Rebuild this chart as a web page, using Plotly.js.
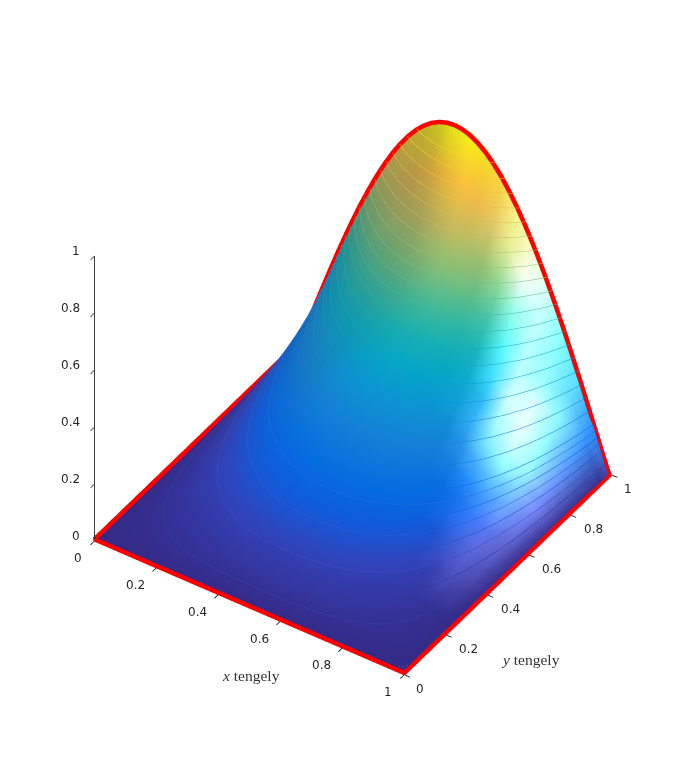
<!DOCTYPE html>
<html><head><meta charset="utf-8">
<script src="https://cdn.plot.ly/plotly-3.0.1.min.js"></script>
<style>html,body{margin:0;padding:0;background:#fff}#c{width:682px;height:758px}</style>
</head><body><div id="c"></div>
<script>
const xGrid=[0,.05,.1,.15,.2,.25,.3,.35,.4,.45,.5,.55,.6,.65,.7,.75,.8,.85,.9,.95,1];
const yGrid=[0,.05,.1,.15,.2,.25,.3,.35,.4,.45,.5,.55,.6,.65,.7,.75,.8,.85,.9,.95,1];
const zGrid=[
[0,0,0,0,0,0,0,0,0,0,0,0,0,0,0,0,0,0,0,0,0],
[0,.002,.004,.006,.008,.010,.011,.012,.013,.013,.014,.013,.013,.012,.011,.010,.008,.006,.004,.002,0],
[0,.004,.009,.013,.016,.020,.022,.025,.026,.027,.028,.027,.026,.025,.022,.020,.016,.013,.009,.004,0],
[0,.007,.013,.019,.025,.030,.034,.038,.040,.042,.042,.042,.040,.038,.034,.030,.025,.019,.013,.007,0],
[0,.009,.018,.026,.034,.041,.047,.052,.055,.057,.058,.057,.055,.052,.047,.041,.034,.026,.018,.009,0],
[0,.012,.023,.034,.044,.053,.061,.067,.072,.074,.075,.074,.072,.067,.061,.053,.044,.034,.023,.012,0],
[0,.015,.029,.043,.055,.067,.076,.084,.090,.093,.094,.093,.090,.084,.076,.067,.055,.043,.029,.015,0],
[0,.018,.036,.052,.068,.082,.094,.103,.110,.114,.116,.114,.110,.103,.094,.082,.068,.052,.036,.018,0],
[0,.022,.043,.063,.082,.099,.113,.125,.133,.138,.140,.138,.133,.125,.113,.099,.082,.063,.043,.022,0],
[0,.026,.052,.076,.098,.118,.135,.149,.159,.165,.167,.165,.159,.149,.135,.118,.098,.076,.052,.026,0],
[0,.031,.062,.090,.117,.141,.161,.178,.190,.197,.199,.197,.190,.178,.161,.141,.117,.090,.062,.031,0],
[0,.037,.073,.107,.139,.167,.191,.210,.224,.233,.236,.233,.224,.210,.191,.167,.139,.107,.073,.037,0],
[0,.044,.086,.126,.164,.197,.225,.248,.265,.275,.279,.275,.265,.248,.225,.197,.164,.126,.086,.044,0],
[0,.051,.101,.149,.193,.232,.265,.292,.312,.324,.328,.324,.312,.292,.265,.232,.193,.149,.101,.051,0],
[0,.060,.119,.175,.227,.273,.312,.344,.367,.381,.386,.381,.367,.344,.312,.273,.227,.175,.119,.060,0],
[0,.071,.140,.206,.266,.320,.366,.403,.431,.447,.453,.447,.431,.403,.366,.320,.266,.206,.140,.071,0],
[0,.083,.164,.241,.312,.375,.430,.473,.505,.524,.531,.524,.505,.473,.430,.375,.312,.241,.164,.083,0],
[0,.097,.192,.283,.366,.440,.504,.555,.592,.615,.622,.615,.592,.555,.504,.440,.366,.283,.192,.097,0],
[0,.114,.225,.331,.429,.516,.590,.650,.694,.720,.729,.720,.694,.650,.590,.516,.429,.331,.225,.114,0],
[0,.134,.264,.388,.502,.604,.691,.761,.812,.844,.854,.844,.812,.761,.691,.604,.502,.388,.264,.134,0],
[0,.156,.309,.454,.588,.707,.809,.891,.951,.988,1,.988,.951,.891,.809,.707,.588,.454,.309,.156,0]
];
// shading: negative = dim slope, positive = white highlight
const shade=[
[0,0,0,0,0,0,0,0,0,0,0,0,0,0,0,0,0,0,0,0,0],
[0,0,0,0,0,0,0,0,0,0,0,0,0,0,0,0,0,0,0,0,0],
[0,0,0,0,0,0,0,0,0,0,0,0,0,0,0,0,0,0,0,0,0],
[0,0,0,0,0,0,0,0,0,0,0,0,0,0,0,0,0,0,0,0,0],
[0,0,0,0,0,0,0,0,0,0,0,0,0,0,0,0,0,0,0,0,0],
[0,0,0,0,0,0,0,0,0,0,0,0,0,0,0,0,0,0,0,0,0],
[0,0,0,0,0,0,0,0,0,0,0,0,0,0,0,0,0,0,.03,.03,0],
[0,0,0,0,0,0,0,0,0,0,0,0,0,0,0,0,0,0,.08,.06,0],
[0,0,0,0,0,0,0,0,0,0,0,0,0,0,0,0,0,.05,.12,.1,0],
[0,-.05,-.05,-.05,-.05,-.03,0,0,0,0,0,0,0,0,0,0,0,.08,.15,.12,0],
[0,-.08,-.08,-.08,-.08,-.05,-.03,0,0,0,0,0,0,0,0,0,.05,.12,.18,.15,0],
[0,-.1,-.1,-.1,-.1,-.08,-.05,0,0,0,0,0,0,0,0,0,.05,.15,.2,.18,0],
[0,-.12,-.12,-.12,-.12,-.12,-.08,-.04,0,0,0,0,0,0,0,.03,.12,.22,.3,.22,0],
[0,-.18,-.18,-.18,-.18,-.18,-.14,-.08,-.03,0,0,0,0,0,0,.08,.25,.38,.38,.25,0],
[0,-.25,-.25,-.25,-.25,-.25,-.25,-.2,-.1,-.05,0,0,0,0,.03,.15,.45,.6,.5,.3,0],
[0,-.3,-.3,-.3,-.3,-.3,-.3,-.25,-.2,-.12,-.05,0,0,0,.03,.15,.65,.8,.6,.3,0],
[0,-.35,-.35,-.35,-.35,-.35,-.35,-.35,-.3,-.25,-.1,0,0,0,.03,.25,.8,.9,.6,.3,0],
[0,-.42,-.42,-.42,-.42,-.42,-.42,-.42,-.42,-.35,-.15,0,0,0,.05,.3,.75,.85,.55,.28,0],
[0,-.5,-.5,-.5,-.5,-.5,-.5,-.5,-.5,-.45,-.2,0,0,0,.1,.35,.7,.6,.5,.25,0],
[-.6,-.6,-.6,-.6,-.6,-.6,-.6,-.6,-.6,-.5,-.2,0,0,.05,.2,.5,.6,.55,.35,.2,0],
[-.6,-.6,-.6,-.6,-.6,-.6,-.6,-.6,-.6,-.5,-.2,0,0,.05,.25,.4,.45,.45,.3,.15,.1]
];
const edgeX=[0,.025,.05,.075,.1,.125,.15,.175,.2,.225,.25,.275,.3,.325,.35,.375,.4,.425,.45,.475,.5,.525,.55,.575,.6,.625,.65,.675,.7,.725,.75,.775,.8,.825,.85,.875,.9,.925,.95,.975,1,1,0,0];
const edgeY=[.99,.99,.99,.99,.99,.99,.99,.99,.99,.99,.99,.99,.99,.99,.99,.99,.99,.99,.99,.99,.99,.99,.99,.99,.99,.99,.99,.99,.99,.99,.99,.99,.99,.99,.99,.99,.99,.99,.99,.99,.99,0,0,.99];
const edgeZ=[.006,.0785,.1564,.2334,.309,.3827,.454,.5225,.5878,.6494,.7071,.7604,.809,.8526,.891,.9239,.9511,.9724,.9877,.9969,1,.9969,.9877,.9724,.9511,.9239,.891,.8526,.809,.7604,.7071,.6494,.5878,.5225,.454,.3827,.309,.2334,.1564,.0785,.006,.006,.006,.006];
const tickVals=[0,.2,.4,.6,.8,1];
const tickText=['0','0.2','0.4','0.6','0.8','1'];
const parulaPos=[0,.0635,.111,.159,.206,.254,.302,.349,.397,.444,.492,.54,.587,.635,.683,.73,.778,.825,.873,.92,.968,1];
const parulaRGB=[[53,42,135],[50,67,186],[15,92,221],[4,109,224],[16,121,218],[20,133,212],[12,147,210],[6,160,205],[7,169,194],[21,176,180],[46,183,164],[77,188,146],[113,191,128],[145,191,115],[174,189,103],[200,187,93],[225,185,82],[248,186,68],[254,200,50],[247,216,38],[245,235,24],[249,251,14]];
const parulaAt=(t)=>{let i=0;while(i<parulaPos.length-2&&t>parulaPos[i+1])i++;const f=(t-parulaPos[i])/(parulaPos[i+1]-parulaPos[i]);return parulaRGB[i].map((c,n)=>c+(parulaRGB[i+1][n]-c)*f);};
const parulaScale=parulaPos.map((p,i)=>[p,'rgb('+parulaRGB[i].join(',')+')']);
const paleScale=parulaPos.map((p,i)=>[p,'rgb('+parulaRGB[i].map(c=>Math.round(c+(255-c)*.07)).join(',')+')']);
const vx=[],vy=[],vz=[],vc=[],ti=[],tj=[],tk=[];
const nx=xGrid.length,ny=yGrid.length;
yGrid.forEach((y,r)=>xGrid.forEach((x,c)=>{
 vx.push(x);vy.push(y);vz.push(zGrid[r][c]);
 const s=shade[r][c],b=parulaAt(zGrid[r][c]);
 const m=s>=0?b.map(v=>Math.min(255,v+255*s*.95)):b.map(v=>v+(64-v)*(-s)*.5);
 vc.push('rgb('+m.map(Math.round).join(',')+')');
 if(r<ny-1&&c<nx-1){const a=r*nx+c;ti.push(a,a);tj.push(a+1,a+nx+1);tk.push(a+nx+1,a+nx);}
}));
const axis=()=>({title:{text:''},range:[0,1],tickvals:tickVals,showticklabels:false,showgrid:false,zeroline:false,showbackground:false,showspikes:false,showline:true,linecolor:'#262626',linewidth:2,ticks:'outside',ticklen:7,tickwidth:2,tickcolor:'#262626'});
const tf={family:'DejaVu Sans',size:12,color:'#262626'};
const lab=(x,y,z,t,xs,ys)=>({x,y,z,text:t,showarrow:false,xshift:xs,yshift:ys,font:tf});
const sceneAnn=[];
tickVals.forEach((v,i)=>{
 const w=tickText[i].length>1;
 sceneAnn.push(lab(v,0,0,tickText[i],w?-21:-16,-17));
 sceneAnn.push(lab(1,v,0,tickText[i],w?23:16,-14));
 sceneAnn.push(lab(0,0,v,tickText[i],w?-24:-18,5));
});
const lift=(d)=>zGrid.map(r=>r.map(v=>v+d));
Plotly.newPlot('c',[
{type:'mesh3d',x:vx,y:vy,z:vz,i:ti,j:tj,k:tk,vertexcolor:vc,showscale:false,hoverinfo:'skip',
 lighting:{ambient:1,diffuse:0,specular:0,roughness:1,fresnel:0}},
{type:'surface',x:xGrid,y:yGrid,z:lift(.004),cmin:0,cmax:1,colorscale:parulaScale,showscale:false,hidesurface:true,hoverinfo:'skip',
 contours:{z:{show:true,start:.04,end:.96,size:.04,usecolormap:true,width:1}}},
{type:'surface',x:xGrid,y:yGrid,z:lift(.004),cmin:0,cmax:1,colorscale:paleScale,showscale:false,hidesurface:true,hoverinfo:'skip',
 contours:{z:{show:true,start:.02,end:.18,size:.04,usecolormap:true,width:1}}},
{type:'scatter3d',mode:'lines',x:edgeX,y:edgeY,z:edgeZ,line:{color:'#ff0000',width:9},hoverinfo:'skip'}
],{
 width:682,height:758,margin:{l:0,r:0,t:0,b:0},paper_bgcolor:'#fff',showlegend:false,
 scene:{domain:{x:[.035,1],y:[.035,1]},aspectmode:'manual',aspectratio:{x:1.02,y:1.02,z:1.02},
  camera:{projection:{type:'orthographic'},up:{x:0,y:0,z:1},center:{x:0,y:0,z:0},eye:{x:.835,y:-1.248,z:1.267}},
  xaxis:axis(),yaxis:axis(),zaxis:axis(),annotations:sceneAnn},
 annotations:[
 {xref:'paper',yref:'paper',x:251/682,y:1-675/758,xanchor:'center',yanchor:'middle',text:'<i>x</i> tengely',showarrow:false,font:{family:'Liberation Serif',size:15.5,color:'#333'}},
 {xref:'paper',yref:'paper',x:530/682,y:1-659/758,xanchor:'center',yanchor:'middle',text:'<i>y</i> tengely',showarrow:false,font:{family:'Liberation Serif',size:15.5,color:'#333'}}
 ]
},{displayModeBar:false});
</script></body></html>
